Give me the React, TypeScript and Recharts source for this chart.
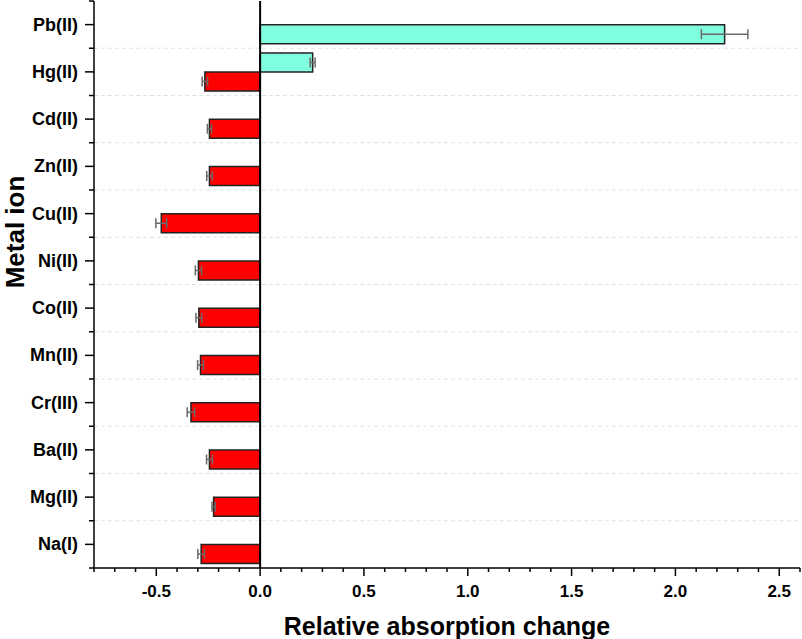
import React from 'react';
import {
  BarChart,
  Bar,
  XAxis,
  YAxis,
  CartesianGrid,
  ReferenceLine,
  ErrorBar,
  Cell,
} from 'recharts';

const categories = [
  'Pb(II)', 'Hg(II)', 'Cd(II)', 'Zn(II)', 'Cu(II)', 'Ni(II)',
  'Co(II)', 'Mn(II)', 'Cr(III)', 'Ba(II)', 'Mg(II)', 'Na(I)',
];

// upper slot of each band (only Hg has one)
const upperValues = [null, 0.253, null, null, null, null, null, null, null, null, null, null];
const upperErrors = [null, 0.012, null, null, null, null, null, null, null, null, null, null];

// lower slot
const lowerValues = [2.237, -0.266, -0.244, -0.244, -0.476, -0.297, -0.295, -0.287, -0.333, -0.244, -0.224, -0.284];
const lowerErrors = [0.112, 0.013, 0.01, 0.013, 0.026, 0.015, 0.014, 0.014, 0.018, 0.014, 0.008, 0.016];

const xTicks = [
  -0.8, -0.7, -0.6, -0.5, -0.4, -0.3, -0.2, -0.1, 0, 0.1, 0.2, 0.3, 0.4, 0.5,
  0.6, 0.7, 0.8, 0.9, 1.0, 1.1, 1.2, 1.3, 1.4, 1.5, 1.6, 1.7, 1.8, 1.9, 2.0,
  2.1, 2.2, 2.3, 2.4, 2.5, 2.6,
];

const W = 802;
const H = 639;
const MARGIN = { top: 1, right: 2, left: 0, bottom: 0 };
const Y_AXIS_W = 94;
const X_AXIS_H = 71;
const PLOT_H = H - MARGIN.top - MARGIN.bottom - X_AXIS_H;
const BAND = PLOT_H / categories.length;

const FONT = '"Liberation Sans", Arial, sans-serif';
const POS = '#80ffe0';
const NEG = '#ff0000';

const data = categories.map((name, i) => ({
  name,
  upper: upperValues[i],
  upperErr: upperErrors[i],
  lower: lowerValues[i],
  lowerErr: lowerErrors[i],
}));

function isMajor(v: number) {
  return Math.abs(v * 2 - Math.round(v * 2)) < 1e-6;
}

function XTick({ x, y, payload }: any) {
  const v = payload.value as number;
  const major = isMajor(v);
  return (
    <g>
      <line x1={x} x2={x} y1={y} y2={y + (major ? 8 : 4)} stroke="#000" strokeWidth={1.5} />
      {major && (
        <text x={x} y={y + 29} textAnchor="middle" fontFamily={FONT} fontWeight="bold" fontSize={17} fill="#000">
          {v.toFixed(1)}
        </text>
      )}
    </g>
  );
}

function YTick({ x, y, payload, index }: any) {
  return (
    <g>
      <line x1={x - 9} x2={x} y1={y} y2={y} stroke="#000" strokeWidth={1.5} />
      <line x1={x - 5} x2={x} y1={y + BAND / 2} y2={y + BAND / 2} stroke="#000" strokeWidth={1.5} />
      {index === 0 && (
        <line x1={x - 5} x2={x} y1={y - BAND / 2} y2={y - BAND / 2} stroke="#000" strokeWidth={1.5} />
      )}
      <text x={x - 16} y={y + 6} textAnchor="end" fontFamily={FONT} fontWeight="bold" fontSize={18} fill="#000">
        {payload.value}
      </text>
    </g>
  );
}

function XTitle({ viewBox }: any) {
  const { x, y, width } = viewBox;
  return (
    <text x={x + width / 2} y={y + 67} textAnchor="middle" fontFamily={FONT} fontWeight="bold" fontSize={25} fill="#000">
      Relative absorption change
    </text>
  );
}

function YTitle() {
  return (
    <text
      x={24}
      y={232}
      transform="rotate(-90 24 232)"
      textAnchor="middle"
      fontFamily={FONT}
      fontWeight="bold"
      fontSize={26}
      fill="#000"
    >
      Metal ion
    </text>
  );
}

export default function App() {
  return (
    <div style={{ position: 'absolute', left: 0, top: 0, background: '#fff' }}>
      <BarChart
        width={W}
        height={H}
        data={data}
        layout="vertical"
        margin={MARGIN}
        barCategoryGap="10%"
        barGap={0}
      >
        <CartesianGrid
          vertical={false}
          stroke="#d9e6e6"
          strokeDasharray="4 3"
          horizontalCoordinatesGenerator={({ offset }: any) =>
            categories.slice(1).map((_, i) => offset.top + (i + 1) * (offset.height / categories.length))
          }
        />
        <XAxis
          type="number"
          domain={[-0.8, 2.6]}
          ticks={xTicks}
          interval={0}
          allowDataOverflow
          height={X_AXIS_H}
          tickSize={0}
          tickMargin={0}
          tick={<XTick />}
          axisLine={{ stroke: '#000', strokeWidth: 1.5 }}
          label={<XTitle />}
        />
        <XAxis
          xAxisId="top"
          orientation="top"
          type="number"
          domain={[-0.8, 2.6]}
          allowDataOverflow
          height={0}
          tick={false}
          tickLine={false}
          axisLine={{ stroke: '#000', strokeWidth: 1.5 }}
        />
        <YAxis
          type="category"
          dataKey="name"
          width={Y_AXIS_W}
          tickSize={0}
          tickMargin={0}
          interval={0}
          tick={<YTick />}
          axisLine={{ stroke: '#000', strokeWidth: 1.5 }}
          label={<YTitle />}
        />
        <YAxis
          yAxisId="right"
          orientation="right"
          type="category"
          dataKey="name"
          width={0}
          tick={false}
          tickLine={false}
          axisLine={{ stroke: '#000', strokeWidth: 1.5 }}
        />
        <Bar dataKey="upper" fill={POS} stroke="#222" strokeWidth={1.5} isAnimationActive={false}>
          <ErrorBar dataKey="upperErr" direction="x" width={5} stroke="#6a6a6a" strokeWidth={1.5} />
        </Bar>
        <Bar dataKey="lower" stroke="#222" strokeWidth={1.5} isAnimationActive={false}>
          {lowerValues.map((v, i) => (
            <Cell key={i} fill={v >= 0 ? POS : NEG} />
          ))}
          <ErrorBar dataKey="lowerErr" direction="x" width={5} stroke="#6a6a6a" strokeWidth={1.5} />
        </Bar>
        <ReferenceLine x={0} stroke="#000" strokeWidth={2} />
      </BarChart>
    </div>
  );
}
